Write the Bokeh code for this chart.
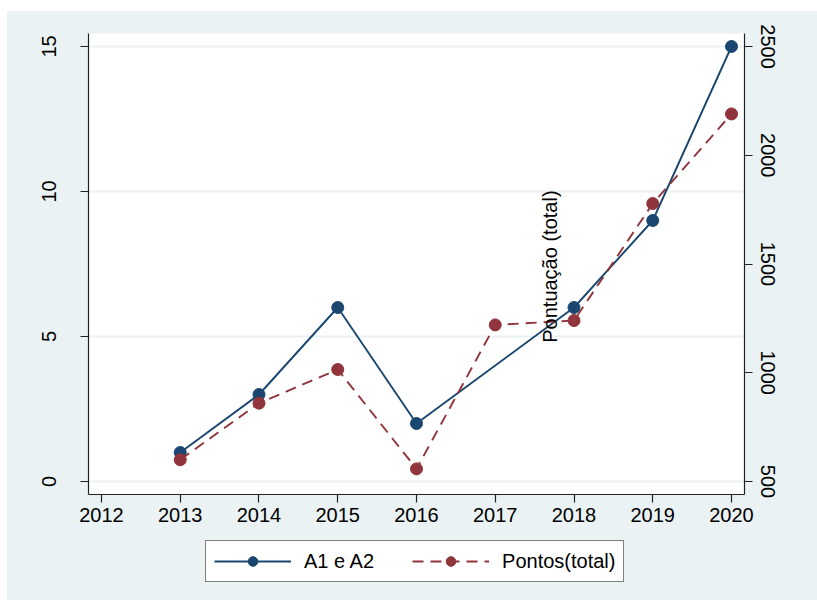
import math
from bokeh.plotting import figure
from bokeh.layouts import column
from bokeh.models import (Range1d, LinearAxis, FixedTicker, Legend, LegendItem,
                          Label, ColumnDataSource)
from bokeh.embed import file_html
from bokeh.resources import INLINE

# ---- data ----
years = [2013, 2014, 2015, 2016, 2017, 2018, 2019, 2020]
a1_a2 = [1, 3, 6, 2, float("nan"), 6, 9, 15]
pontos_total = [600, 860, 1015, 558, 1220, 1240, 1778, 2190]
x_ticks = [2012, 2013, 2014, 2015, 2016, 2017, 2018, 2019, 2020]
left_ticks = [0, 5, 10, 15]
right_ticks = [500, 1000, 1500, 2000, 2500]
series_names = ["A1 e A2", "Pontos(total)"]
right_title = "Pontuação (total)"

BG = "#EAF2F3"
NAVY = "#1A476F"
MAROON = "#90353B"
FONT = "Liberation Sans"
FS = "20px"

p = figure(width=810, height=524,
           output_backend="svg", toolbar_location=None,
           x_range=Range1d(2011.835, 2020.165),
           y_range=Range1d(-0.448, 15.448),
           min_border_left=81, min_border_right=73,
           min_border_top=22, min_border_bottom=41)
p.extra_y_ranges = {"pts": Range1d(440.2, 2559.8)}

p.background_fill_color = "white"
p.border_fill_color = BG
p.outline_line_color = None

# grid
p.xgrid.visible = False
p.ygrid.ticker = FixedTicker(ticks=left_ticks)
p.ygrid.grid_line_color = BG
p.ygrid.grid_line_width = 2

def style_axis(ax):
    ax.axis_line_color = "#222222"
    ax.axis_line_width = 1.2
    ax.major_tick_line_color = "#222222"
    ax.major_tick_line_width = 1.2
    ax.major_tick_out = 8
    ax.major_tick_in = 0
    ax.minor_tick_line_color = None
    ax.major_label_text_font = FONT
    ax.major_label_text_font_size = FS
    ax.major_label_text_color = "black"

# x axis
xa = p.xaxis[0]
xa.ticker = FixedTicker(ticks=x_ticks)
style_axis(xa)
xa.major_label_standoff = 5

# left axis
ya = p.yaxis[0]
ya.ticker = FixedTicker(ticks=left_ticks)
style_axis(ya)
ya.major_label_orientation = "vertical"
ya.major_label_standoff = 24

# right axis
ra = LinearAxis(y_range_name="pts", ticker=FixedTicker(ticks=right_ticks))
style_axis(ra)
ra.major_label_orientation = "vertical"
ra.major_label_standoff = 8
p.add_layout(ra, "right")

src = ColumnDataSource(dict(x=years, a=a1_a2, b=pontos_total))

# connect across the missing year as the reference does
yrs_a = [y for y, v in zip(years, a1_a2) if v == v]
val_a = [v for v in a1_a2 if v == v]
line_a = dict(line_color=NAVY, line_width=1.9)
dot_a = dict(size=12, fill_color=NAVY, line_color=NAVY)
line_b = dict(line_color=MAROON, line_width=1.9, line_dash="11 7")
dot_b = dict(size=12, fill_color=MAROON, line_color=MAROON)

p.line(yrs_a, val_a, **line_a)
p.scatter(yrs_a, val_a, **dot_a)
p.line("x", "b", source=src, y_range_name="pts", **line_b)
p.scatter("x", "b", source=src, y_range_name="pts", **dot_b)

# misplaced right-axis title as in reference
p.add_layout(Label(x=2017.69, y=7.41, text=right_title, angle=math.pi / 2,
                   text_align="center", text_baseline="middle",
                   text_font=FONT, text_font_size=FS, text_color="black"))

# ---- legend strip below the chart (proxy renderers, nothing visible) ----
lf = figure(width=810, height=65, output_backend="svg", toolbar_location=None,
            x_axis_location=None, y_axis_location=None,
            x_range=Range1d(0, 1), y_range=Range1d(0, 1),
            min_border_left=0, min_border_right=0,
            min_border_top=0, min_border_bottom=0)
lf.background_fill_color = BG
lf.border_fill_color = BG
lf.outline_line_color = None
lf.grid.visible = False

nan = float("nan")
e = ColumnDataSource(dict(x=[nan], y=[nan]))
ra1 = lf.line("x", "y", source=e, **line_a)
rc1 = lf.scatter("x", "y", source=e, **dot_a)
ra2 = lf.line("x", "y", source=e, **line_b)
rc2 = lf.scatter("x", "y", source=e, **dot_b)

legend = Legend(items=[LegendItem(label=series_names[0], renderers=[ra1, rc1]),
                       LegendItem(label=series_names[1], renderers=[ra2, rc2])],
                orientation="horizontal", location=(117, 18))
legend.glyph_width = 77
legend.glyph_height = 24
legend.label_standoff = 13
legend.spacing = 38
legend.padding = 8
legend.margin = 0
legend.label_text_font = FONT
legend.label_text_font_size = FS
legend.label_text_color = "black"
legend.border_line_color = "black"
legend.border_line_width = 1.2
legend.background_fill_color = "white"
legend.background_fill_alpha = 1
lf.add_layout(legend, "center")

layout = column(p, lf, spacing=0, margin=(11, 0, 0, 7))
layout.styles = {"background-color": BG}

open("out.html", "w").write(file_html(layout, INLINE))
